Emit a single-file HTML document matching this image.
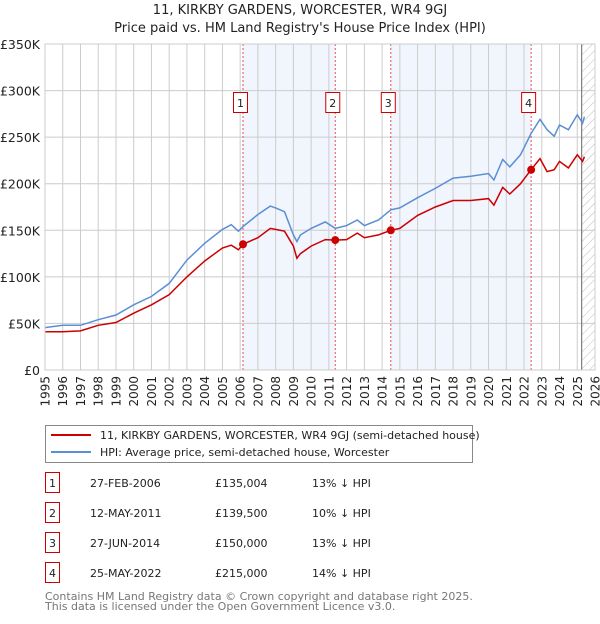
<!DOCTYPE html>
<html><head><meta charset="utf-8"><style>
body{margin:0;background:#fff;font-family:"DejaVu Sans","Liberation Sans",sans-serif;}
svg text{font-family:"DejaVu Sans","Liberation Sans",sans-serif;}
</style></head><body>
<svg id="chart" width="600" height="620" xmlns="http://www.w3.org/2000/svg">
<defs><pattern id="hatch" width="6" height="6" patternUnits="userSpaceOnUse" patternTransform="rotate(45)"><line x1="0" y1="0" x2="0" y2="6" stroke="#bbb" stroke-width="1"/></pattern></defs>
<text x="300" y="14" text-anchor="middle" font-size="13" fill="#222">11, KIRKBY GARDENS, WORCESTER, WR4 9GJ</text>
<text x="300" y="32" text-anchor="middle" font-size="13" fill="#222">Price paid vs. HM Land Registry's House Price Index (HPI)</text>
<g id="plot"></g>
<g>
<rect x="45.5" y="425.5" width="427" height="37" fill="#fff" stroke="#888"/>
<line x1="51" y1="435" x2="91" y2="435" stroke="#cc0000" stroke-width="2"/>
<text x="100" y="439" font-size="11" fill="#222">11, KIRKBY GARDENS, WORCESTER, WR4 9GJ (semi-detached house)</text>
<line x1="51" y1="452" x2="91" y2="452" stroke="#5b8fd4" stroke-width="2"/>
<text x="100" y="456" font-size="11" fill="#222">HPI: Average price, semi-detached house, Worcester</text>
</g>
<g id="table"></g>
<text x="45" y="600" font-size="11" fill="#777">Contains HM Land Registry data © Crown copyright and database right 2025.</text>
<text x="45" y="610" font-size="11" fill="#777">This data is licensed under the Open Government Licence v3.0.</text>
</svg>
<script>
const hpiYears=[1995,1996,1997,1998,1999,2000,2001,2002,2003,2004,2005,2005.5,2005.9,2006.16,2007,2007.7,2008,2008.5,2009,2009.2,2009.4,2010,2010.8,2011.36,2012,2012.6,2013,2013.8,2014.49,2015,2016,2017,2018,2019,2020,2020.3,2020.8,2021.2,2021.8,2022.4,2022.9,2023.3,2023.7,2024,2024.5,2025,2025.3,2025.4];
const hpiValues=[45500,48000,48000,54000,59000,70000,79000,93000,118000,136000,151000,156000,149000,154000,167000,176000,174000,170000,145000,138000,145000,152000,159000,152000,155000,161000,155000,161000,172000,174000,185000,195000,206000,208000,211000,204000,226000,218000,231000,254000,269000,258000,251000,263000,258000,274000,265000,272000];
const propValues=[41000,41000,42000,48000,51000,61000,70000,81000,100000,117000,131000,134000,129000,135004,142000,152000,151000,149000,133000,120000,125000,133000,140000,139500,140000,147000,142000,145000,150000,152000,166000,175000,182000,182000,184000,177000,196000,189000,200000,215000,227000,213000,215000,224000,217000,231000,224000,229000];
const saleYears=[2006.16,2011.36,2014.49,2022.4];
const saleValues=[135004,139500,150000,215000];
const saleLabels=["1","2","3","4"];
const saleDates=["27-FEB-2006","12-MAY-2011","27-JUN-2014","25-MAY-2022"];
const salePrices=["£135,004","£139,500","£150,000","£215,000"];
const saleDiffs=["13% ↓ HPI","10% ↓ HPI","13% ↓ HPI","14% ↓ HPI"];
const yTicks=[0,50000,100000,150000,200000,250000,300000,350000];
const yTickLabels=["£0","£50K","£100K","£150K","£200K","£250K","£300K","£350K"];
const xTicks=[1995,1996,1997,1998,1999,2000,2001,2002,2003,2004,2005,2006,2007,2008,2009,2010,2011,2012,2013,2014,2015,2016,2017,2018,2019,2020,2021,2022,2023,2024,2025,2026];
const dataEnd=2025.25;

const NS="http://www.w3.org/2000/svg";
const L=45,R=595,T=44,B=370;
const X=y=>L+(y-1995)/(2026-1995)*(R-L);
const Y=v=>B-v/350000*(B-T);
const plot=document.getElementById('plot');
function mk(tag,attrs,parent){const e=document.createElementNS(NS,tag);for(const k in attrs)e.setAttribute(k,attrs[k]);(parent||plot).appendChild(e);return e;}

for(let i=0;i<saleYears.length;i+=2){
 const r=mk('rect',{x:X(saleYears[i]),y:T,width:X(saleYears[i+1])-X(saleYears[i]),height:B-T,fill:'#eef3fc',opacity:0.8});
 
 
}
const h=mk('rect',{x:X(dataEnd),y:T,width:R-X(dataEnd),height:B-T,fill:'url(#hatch)'});


xTicks.forEach(t=>{
 const g=mk('line',{x1:X(t),x2:X(t),y1:T,y2:B,stroke:'#cccccc','stroke-width':1});
 
 
 const tx=mk('text',{x:0,y:0,'text-anchor':'end','font-size':12,fill:'#222',transform:`translate(${(X(t)+4.5).toFixed(1)},376) rotate(-90)`});
 tx.textContent=t;
 
 
});
yTicks.forEach((t,i)=>{
 const g=mk('line',{x1:L,x2:R,y1:Y(t),y2:Y(t),stroke:'#cccccc','stroke-width':1});
 
 
 const tx=mk('text',{x:40,y:Y(t)+5,'text-anchor':'end','font-size':12.5,fill:'#222'});
 tx.textContent=yTickLabels[i];
 
 
});
const el=mk('line',{x1:X(dataEnd),x2:X(dataEnd),y1:T,y2:B,stroke:'#666','stroke-width':1});


saleYears.forEach(s=>{
 const v=mk('line',{x1:X(s),x2:X(s),y1:T,y2:B,stroke:'#e05050','stroke-width':1,'stroke-dasharray':'2,2'});
 
 
});
const pts=a=>a.map((v,i)=>X(hpiYears[i]).toFixed(1)+','+Y(v).toFixed(1)).join(' ');
const hl=mk('polyline',{points:pts(hpiValues),fill:'none',stroke:'#5b8fd4','stroke-width':1.5});


const pl=mk('polyline',{points:pts(propValues),fill:'none',stroke:'#cc0000','stroke-width':1.5});


saleYears.forEach((s,i)=>{
 const c=mk('circle',{cx:X(s),cy:Y(saleValues[i]),r:4,fill:'#cc0000'});
 
 
 const bx=mk('rect',{x:X(s)-9.5,y:92.5,width:14,height:20,fill:'#fff',stroke:'#cc0000'});
 
 
 const t=mk('text',{x:X(s)-2.5,y:107,'text-anchor':'middle','font-size':11,fill:'#222'});
 t.textContent=saleLabels[i];
 
 
});
const border=mk('rect',{x:L,y:T,width:R-L,height:B-T,fill:'none',stroke:'#cccccc'});


const tb=document.getElementById('table');
saleLabels.forEach((lb,i)=>{
 const cy=483+i*30;
 const b=mk('rect',{x:45.5,y:cy-10.5,width:14,height:20,fill:'#fff',stroke:'#cc0000'},tb);
 
 
 const cols=[[52.5,lb,'middle'],[90,saleDates[i],'start'],[215,salePrices[i],'start'],[312,saleDiffs[i],'start']];
 cols.forEach(c=>{
  const t=mk('text',{x:c[0],y:cy+4,'text-anchor':c[2],'font-size':11,fill:'#222'},tb);
  t.textContent=c[1];
  
  
 });
});
</script>
</body></html>
